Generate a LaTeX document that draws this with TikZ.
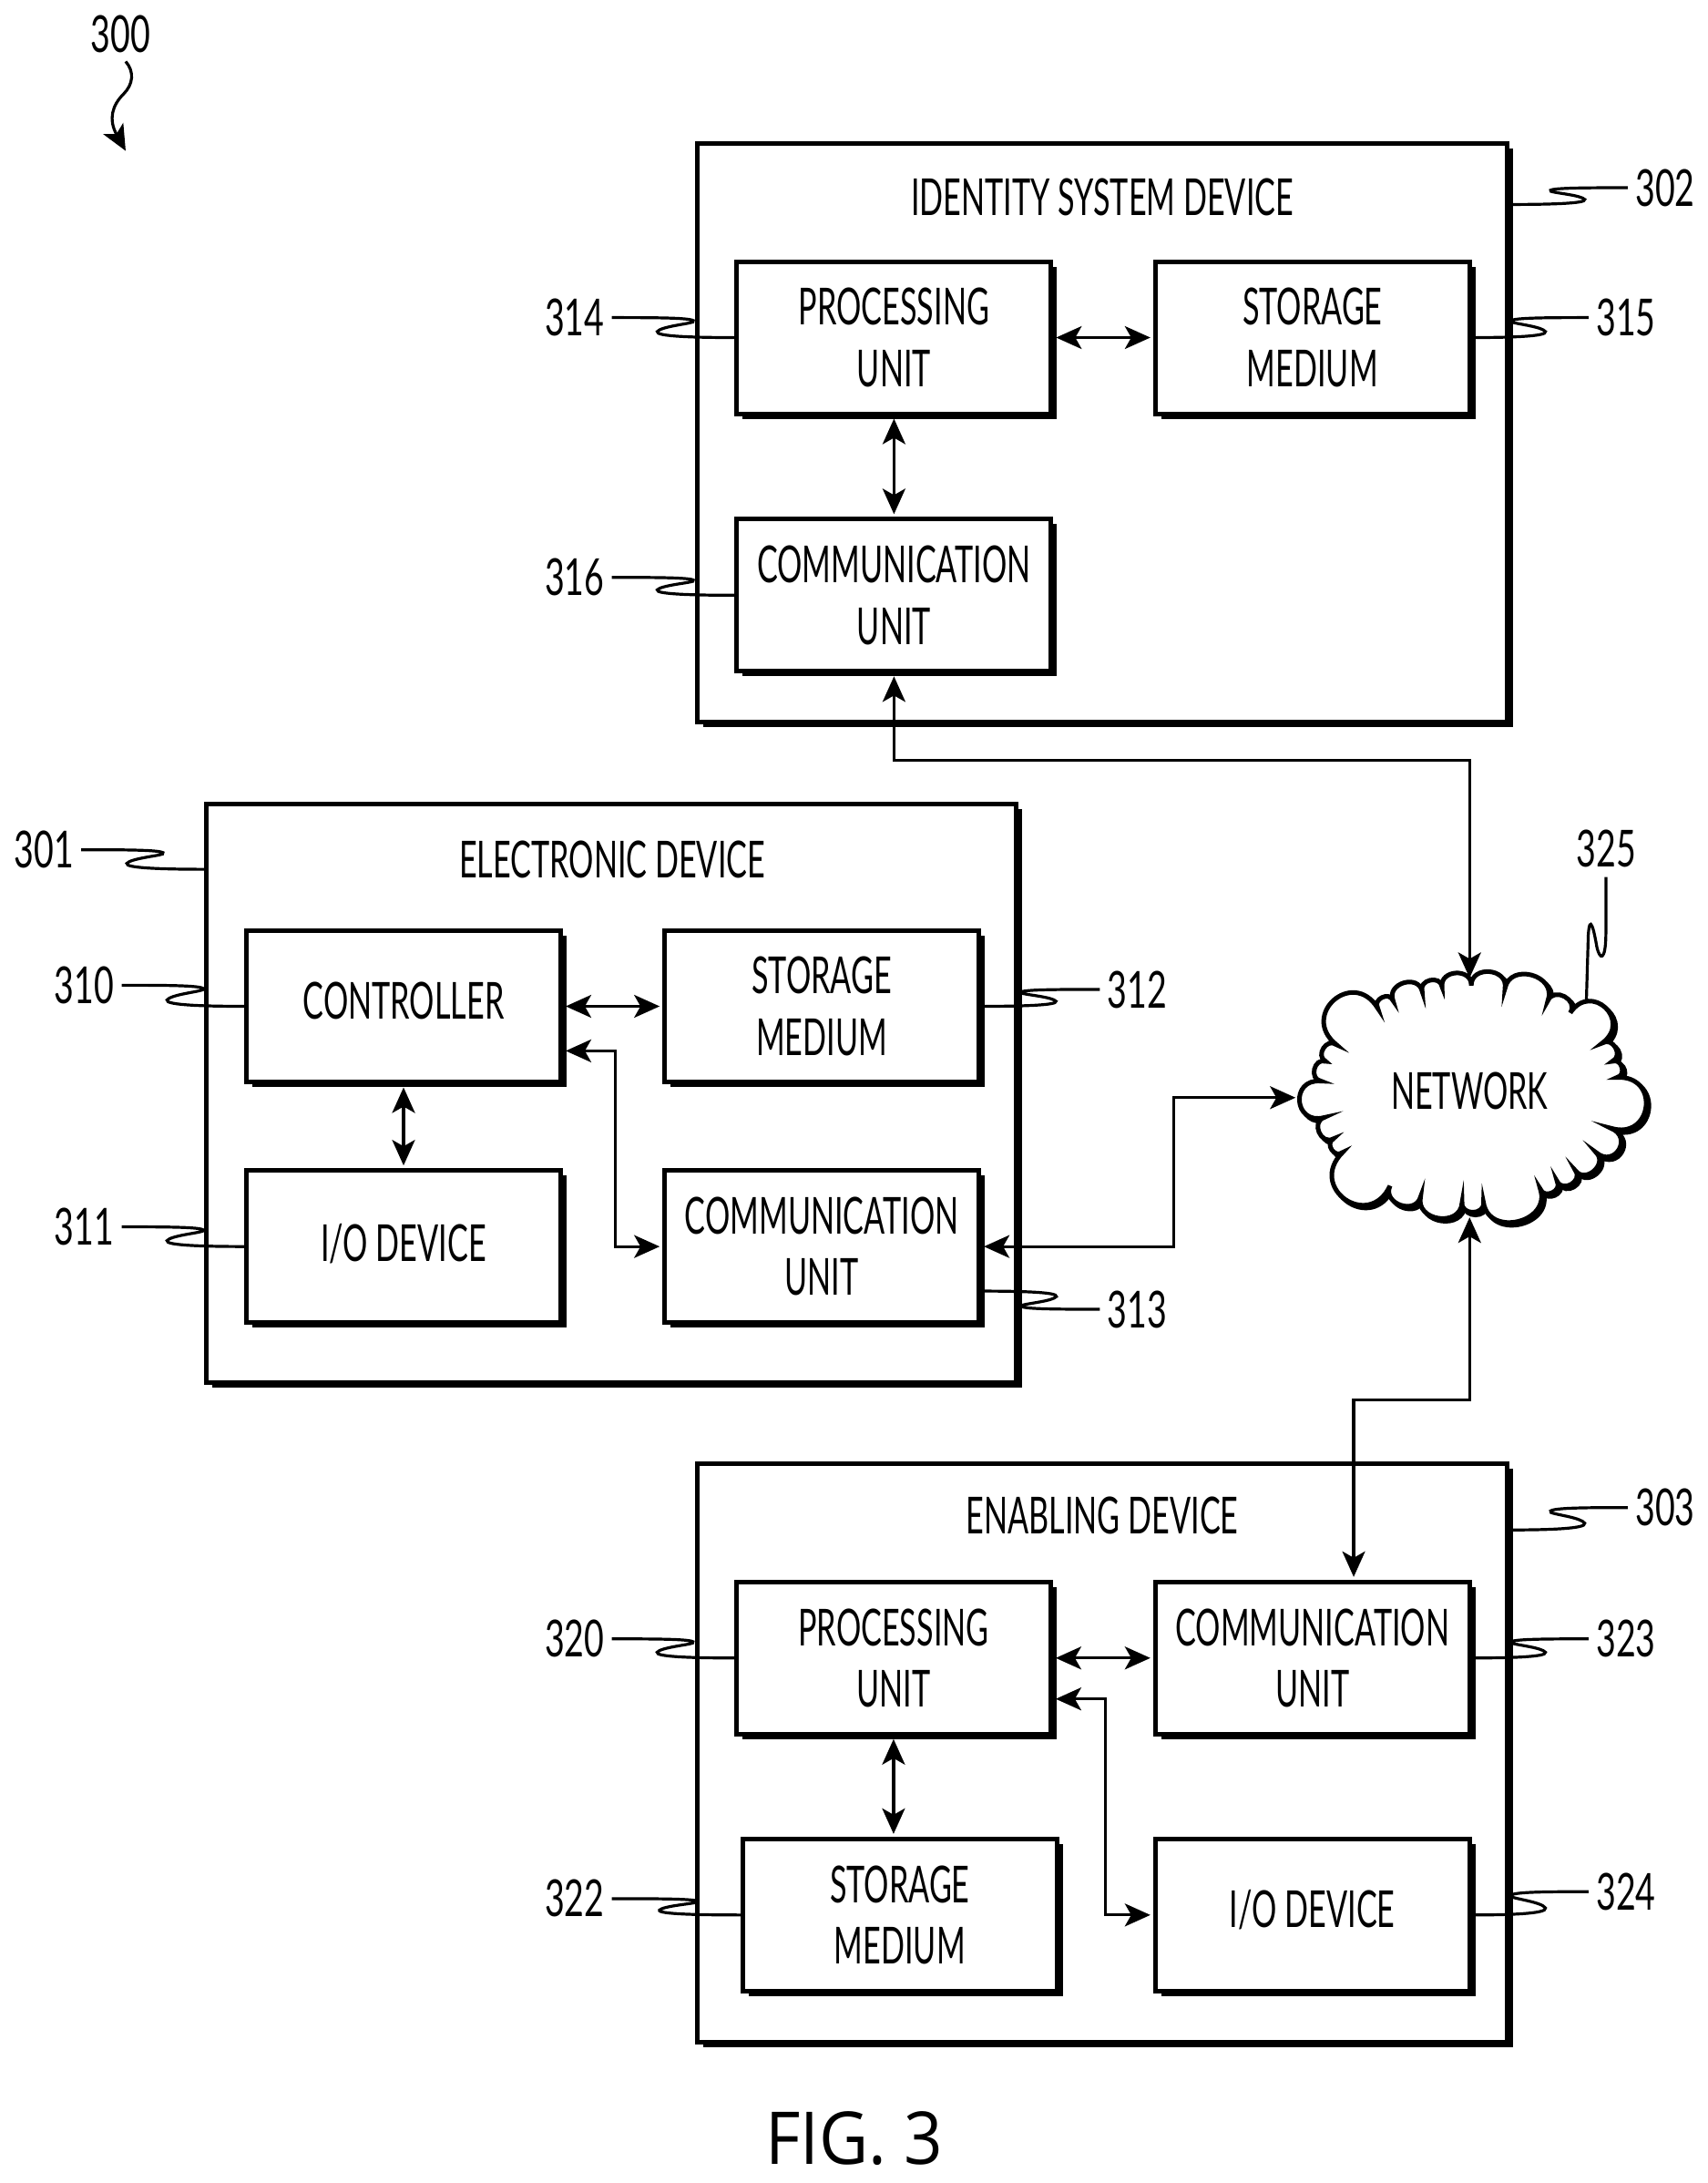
\documentclass[tikz,border=0pt]{standalone}
\usepackage{fontspec}
\setmainfont{Lato}[FakeStretch=0.61]
\newfontfamily\numfont{Lato}[FakeStretch=0.67]
\newfontfamily\figfont{Open Sans}[FakeStretch=0.93]
\usetikzlibrary{arrows.meta,calc,shadows}

\tikzset{puff/.style={bend left=95, looseness=1.55}}
\tikzset{big puff/.style={bend left=100, looseness=2.2}}
\newcommand{\cloudpath}{(475,680) to[puff] (525,655) to[puff] (620,625) to[puff] (685,610)
    to[puff] (780,605) to[puff] (890,615) to[puff] (1030,655) to[puff] (1103,695)
    to[big puff] (1207,795) to[puff] (1240,855) to[puff] (1255,908) to[big puff] (1235,1075)
    to[big puff] (1187,1155) to[puff] (1120,1215) to[puff] (1060,1250) to[puff] (1005,1275)
    to[puff] (820,1320) to[puff] (750,1320) to[puff] (615,1300) to[puff] (515,1265)
    to[big puff] (360,1155) to[puff] (330,1110) to[puff] (300,1040) to[big puff] (290,920)
    to[puff] (305,855) to[puff] (340,800) to[big puff] (475,680) -- cycle}

\begin{document}
\begin{tikzpicture}[x=0.76656pt, y=-0.76656pt, shift={(-2.6,-2.6)},
            every node/.style={font=\fontsize{28}{33.7}\selectfont, align=center, inner sep=0pt},
            outer box/.style={draw, fill=white, line width=2.5pt, minimum width=444.5pt, minimum height=317.5pt,
                general shadow={fill=black, shadow xshift=3.25pt, shadow yshift=-2.75pt}},
            inner box/.style={draw, fill=white, line width=2.5pt, minimum width=172.5pt, minimum height=83.5pt,
                general shadow={fill=black, shadow xshift=3.25pt, shadow yshift=-2.75pt}},
            link/.style={<->, >={Stealth[length=14pt, width=12.5pt, inset=3.5pt]}, line width=1.6pt,
                shorten >=1.5pt, shorten <=1.5pt},
            ref label/.style={inner sep=4pt, font=\numfont\fontsize{28}{33.7}\selectfont},
            lead/.style={line width=1.6pt, to path={let \p1=(\tikztostart), \p2=(\tikztotarget),
                \n1={\x2-\x1}, \n2={\y2-\y1} in
                .. controls (\x1+.35*\n1,\y1) and (\x1+.72*\n1,\y1) .. (\x1+.66*\n1,\y1+.22*\n2)
                .. controls (\x1+.62*\n1,\y1+.32*\n2) and (\x1+.4*\n1,\y1+.45*\n2) .. (\x1+.37*\n1,\y1+.7*\n2)
                .. controls (\x1+.35*\n1,\y1+.95*\n2) and (\x1+.7*\n1,\y1+\n2) .. (\tikztotarget)}}]
            \useasboundingbox (2.6, 2.6) rectangle (1225.6, 1565.6);

            % outer devices
            \node [outer box] (id) at (791.8, 312.4) {};
            \node [outer box] (ed) at (440.6, 785.6) {};
            \node [outer box] (en) at (791.8, 1257.6) {};
            \node (idtitle) at (792, 144) {IDENTITY SYSTEM DEVICE};
            \node (edtitle) at (441, 618) {ELECTRONIC DEVICE};
            \node (entitle) at (792, 1088) {ENABLING DEVICE};

            % identity system device
            \node [inner box] (idpu) at (642.8, 244.3) {PROCESSING\\UNIT};
            \node [inner box] (idsm) at (942.5, 244.3) {STORAGE\\MEDIUM};
            \node [inner box] (idcu) at (642.8, 428.8) {COMMUNICATION\\UNIT};

            % electronic device
            \node [inner box] (edctrl) at (291.6, 723.1) {\raisebox{6.5pt}{CONTROLLER}};
            \node [inner box] (edsm) at (591.1, 723.1) {STORAGE\\MEDIUM};
            \node [inner box] (edio) at (291.6, 895.1) {\raisebox{4.5pt}{I/O DEVICE}};
            \node [inner box] (edcu) at (591.1, 895.1) {COMMUNICATION\\UNIT};

            % enabling device
            \node [inner box] (enpu) at (642.5, 1189.7) {PROCESSING\\UNIT};
            \node [inner box] (encu) at (942.5, 1189.7) {COMMUNICATION\\UNIT};
            \node [inner box] (ensm) at (647, 1373.7) {STORAGE\\MEDIUM};
            \node [inner box] (enio) at (942.5, 1373.7) {\raisebox{6.5pt}{I/O DEVICE}};

            % cloud
            \begin{scope}[shift={(678.35pt,-442pt)}, x=0.1683pt, y=-0.16667pt, line width=2.5pt]
                \draw [fill=black, xshift=1.5pt, yshift=-1.5pt] \cloudpath;
                \draw [fill=white] \cloudpath;
            \end{scope}
            \node [minimum width=187.7pt, minimum height=128pt] (net) at (1055, 788.5) {\raisebox{7.8pt}{NETWORK}};

            % links
            \draw [link] (idpu) -- (idsm);
            \draw [link] (idpu) -- (idcu);
            \coordinate (iddrop) at (642.8, 547);
            \draw [link] (idcu.south) -- (iddrop) -| (net.north);
            \draw [link] (edctrl) -- (edsm);
            \draw [link] (edctrl) -- (edio);
            \coordinate (edelbow) at (443, 755);
            \draw [link] (edelbow -| edctrl.east) -- (edelbow) |- (edcu.west);
            \draw [link] (edcu.east) -- ++(138, 0) |- (net.west);
            \coordinate (endrop) at (972, 1005);
            \draw [link] (net.south) |- (endrop) -- (endrop |- encu.north);
            \draw [link] (enpu) -- (encu);
            \draw [link] (enpu.south) -- (enpu.south |- ensm.north);
            \coordinate (enelbow) at (794, 1219);
            \draw [link] (enelbow -| enpu.east) -- (enelbow) |- (enio.west);

            % reference numerals
            \node [ref label] (l300) at (89, 26.8) {300};
            \coordinate (c300) at (92.6, 46.6);
            \coordinate (t300) at (92.6, 110.6);
            \draw [line width=1.6pt, ->, >={Stealth[length=14pt, width=12.5pt, inset=3.5pt]}]
                (c300) .. controls (99, 54) and (98, 63) .. (91, 70) .. controls (83, 78) and (80, 88) .. (t300);

            \node [ref label] (l301) at (34, 611) {301};
            \node [ref label] (l302) at (1195, 137) {302};
            \node [ref label] (l303) at (1195, 1082) {303};
            \node [ref label] (l310) at (63, 708) {310};
            \node [ref label] (l311) at (63, 881) {311};
            \node [ref label] (l312) at (817, 711) {312};
            \node [ref label] (l313) at (817, 940) {313};
            \node [ref label] (l314) at (414, 230) {314};
            \node [ref label] (l315) at (1167, 230) {315};
            \node [ref label] (l316) at (414, 416) {316};
            \node [ref label] (l320) at (414, 1176) {320};
            \node [ref label] (l322) at (414, 1362) {322};
            \node [ref label] (l323) at (1167, 1176) {323};
            \node [ref label] (l324) at (1167, 1357) {324};
            \node [ref label] (l325) at (1153, 610) {325};

            \coordinate (t301) at (149, 625);
            \coordinate (t302) at (1085, 149);
            \coordinate (t303) at (1085, 1098);
            \coordinate (t313) at (706, 927);
            \draw [lead] (l301.east) to (t301);
            \draw [lead] (l302.west) to (t302);
            \draw [lead] (l303.west) to (t303);
            \draw [lead] (l310.east) to (edctrl.west);
            \draw [lead] (l311.east) to (edio.west);
            \draw [lead] (l312.west) to (edsm.east);
            \draw [lead] (l313.west) to (t313);
            \draw [lead] (l314.east) to (idpu.west);
            \draw [lead] (l315.west) to (idsm.east);
            \draw [lead] (l316.east) to (idcu.west);
            \draw [lead] (l320.east) to (enpu.west);
            \draw [lead] (l322.east) to (ensm.west);
            \draw [lead] (l323.west) to (encu.east);
            \draw [lead] (l324.west) to (enio.east);

            \coordinate (c325) at (1152.6, 630.6);
            \coordinate (t325) at (1138.6, 720);
            \draw [line width=1.6pt] (c325) -- (1152.6, 670) .. controls (1152.6, 692) and (1148, 690) .. (1146, 680)
                .. controls (1144, 668) and (1141, 656) .. (1140, 672) -- (t325);

            \node [font=\figfont\fontsize{40}{44}\selectfont, anchor=base] (figlabel) at (614.2, 1552) {FIG. 3};
        \end{tikzpicture}
\end{document}
